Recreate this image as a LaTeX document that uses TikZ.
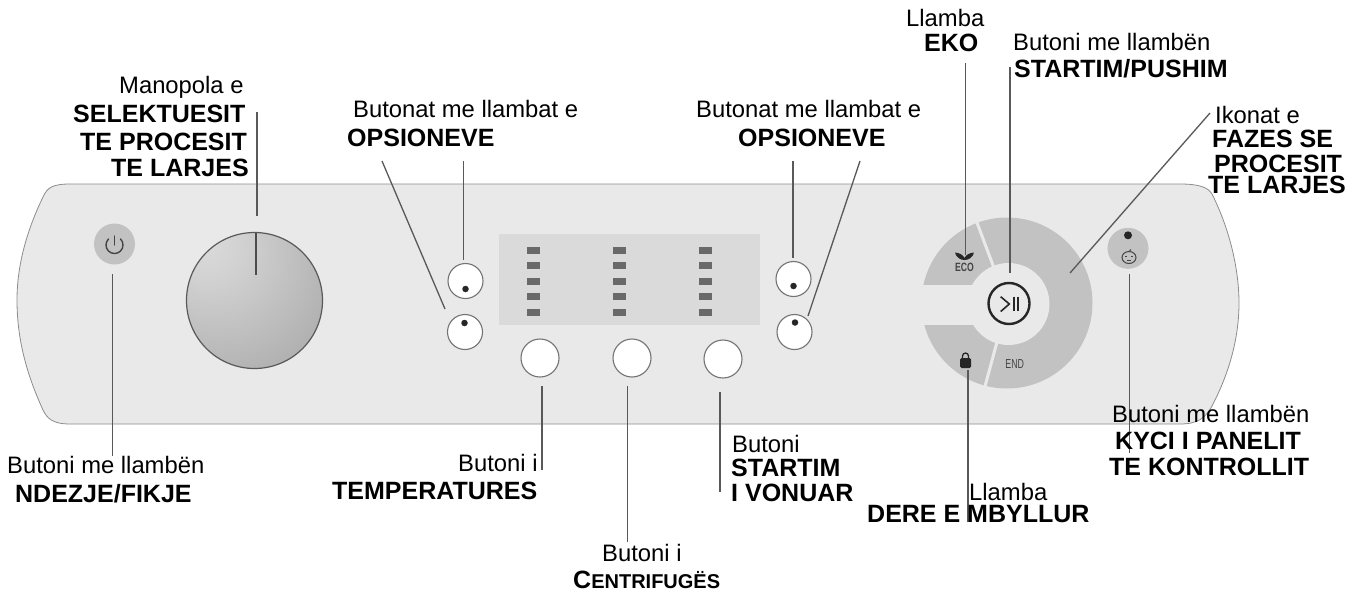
\documentclass[tikz,border=0pt]{standalone}
\usepackage{fontspec}
\setmainfont{Liberation Sans}
\usetikzlibrary{calc}
\definecolor{panelfill}{HTML}{E9E9E9}
\definecolor{paneledge}{HTML}{8C8C8C}
\definecolor{dispfill}{HTML}{DADADA}
\definecolor{ledfill}{HTML}{696969}
\definecolor{ringfill}{HTML}{C2C2C2}
\definecolor{iconink}{HTML}{444444}
\pgfdeclareradialshading{knobshade}{\pgfpoint{-19bp}{22bp}}{%
 color(0bp)=(black!14); color(12bp)=(black!18); color(40bp)=(black!30); color(70bp)=(black!42); color(100bp)=(black!50)}
\tikzset{
 leader/.style={draw=black!65,line width=1.3pt},
 lbl/.style={font=\fontsize{23.8}{26}\selectfont,inner sep=0pt,anchor=base west,text=black},
 blbl/.style={lbl,font=\fontsize{25}{26}\selectfont\bfseries},
 wbtn/.style={circle,draw=black!55,line width=1.1pt,fill=white,inner sep=0pt,minimum size=#1},
 dot/.style={circle,fill=black!85,inner sep=0pt,minimum size=6.5pt},
 led/.style={fill=ledfill,inner sep=0pt,minimum width=13pt,minimum height=7pt},
 gbtn/.style={circle,fill=ringfill,inner sep=0pt,minimum size=41pt},
}
\begin{document}
\begin{tikzpicture}[x=1pt,y=-1pt]
\useasboundingbox (0,0) rectangle (1358,592);
% panel
\draw[fill=panelfill,draw=paneledge,line width=0.8pt]
 (70,184) -- (1180,184) .. controls (1198,184) and (1208,187) .. (1212,194)
 .. controls (1230,230) and (1239,270) .. (1239,303)
 .. controls (1239,340) and (1228,375) .. (1213,404)
 .. controls (1206,418) and (1198,424) .. (1180,424)
 -- (70,424) .. controls (52,424) and (47,418) .. (43,410)
 .. controls (27,375) and (17,340) .. (17,300)
 .. controls (17,265) and (27,230) .. (43,197)
 .. controls (47,188) and (52,184) .. (70,184) -- cycle;
% power
\node[gbtn] (power) at (114.5,244) {};
\draw[iconink,line width=1.4pt,line cap=round] (108.5,239) arc[start angle=135,end angle=405,radius=8.5pt];
\draw[iconink,line width=1.4pt,line cap=round] (114.5,236) -- (114.5,245);
% knob
\node[circle,draw=black!65,line width=1.2pt,shading=knobshade,inner sep=0pt,minimum size=136pt] (knob) at (254.5,300.5) {};
\draw[black!70,line width=2pt] (255.5,232.5) -- (255.5,275);
% display
\node[fill=dispfill,inner sep=0pt,minimum width=261pt,minimum height=91pt] (disp) at (629.5,279.5) {};
\foreach \c/\x in {a/533,b/619,c/705.5}{\foreach \r/\y in {1/250,2/265.5,3/281,4/296.5,5/312}{\node[led] (led\c\r) at (\x,\y) {};}}
% option buttons
\node[wbtn=35pt] (optA) at (465.5,281) {}; \node[dot] (optAd) at (465.5,289) {};
\node[wbtn=35pt] (optB) at (465,332) {};   \node[dot] (optBd) at (464.5,323) {};
\node[wbtn=35pt] (optC) at (793.5,279) {}; \node[dot] (optCd) at (793.5,286) {};
\node[wbtn=35pt] (optD) at (794.5,332) {}; \node[dot] (optDd) at (795,322.5) {};
\node[wbtn=38pt] (btnT) at (540,358) {};
\node[wbtn=38pt] (btnC) at (632,358) {};
\node[wbtn=38pt] (btnS) at (723,359) {};
% ring
\fill[ringfill] (1007,303) circle[radius=85.5pt];
\fill[panelfill] (915,285) rectangle (1007,325);
\draw[panelfill,line width=3pt] (976,220) -- (994,268);
\draw[panelfill,line width=3pt] (984,390) -- (997,342);
\fill[panelfill] (1008.5,304) circle[radius=41pt];
\node[circle,draw=black!85,line width=2.4pt,inner sep=0pt,minimum size=41pt] (play) at (1009,303.5) {};
\draw[black!85,line width=1.6pt] (1000.7,296.7) -- (1009.3,304) -- (1000.7,311.5);
\draw[black!85,line width=1.7pt] (1014.3,296.5) -- (1014.3,311.3) (1017.9,296.5) -- (1017.9,311.3);
\node[inner sep=0pt,text=iconink,font=\fontsize{12}{14}\selectfont\bfseries,xscale=.72] (ecotxt) at (964.5,267.5) {ECO};
\fill[black!85] (964.5,260) .. controls (960,260) and (956,257) .. (955,252.5) .. controls (960,253) and (963,255) .. (964.5,258) .. controls (966,255) and (969,253) .. (974,252.5) .. controls (973,257) and (969,260) .. (964.5,260) -- cycle;
\node[inner sep=0pt,text=iconink,font=\fontsize{13}{14}\selectfont,xscale=.68] (endtxt) at (1014.7,364.5) {END};
\fill[black!85,rounded corners=1.5pt] (960,358) rectangle (971,368);
\draw[black!85,line width=1.3pt] (962.5,358.5) -- (962.5,356) arc[start angle=180,end angle=0,radius=3pt] -- (968.5,358.5);
% baby button
\node[gbtn] (lock) at (1128,248.3) {};
\node[dot,minimum size=8pt] (lockd) at (1128,235.3) {};
\draw[iconink,line width=1pt] (1129,257.5) ellipse[x radius=7pt,y radius=6pt];
\draw[iconink,line width=1pt] (1128.5,252) -- (1131,249.5);
\draw[iconink,line width=.8pt] (1125,256.5) -- (1127,256.5) (1131,256.5) -- (1133,256.5) (1127,260) -- (1131,260);
% leaders
\coordinate (eKnob) at (257,112);   \coordinate (fKnob) at (257,215.5);
\coordinate (ePow) at (112.3,456);  \coordinate (fPow) at (112.3,274);
\coordinate (eA) at (463.5,161);    \coordinate (fA) at (463.5,260);
\coordinate (eB) at (382,161);      \coordinate (fB) at (445,309);
\coordinate (eC) at (793,161);      \coordinate (fC) at (793,258);
\coordinate (eD) at (860,161);      \coordinate (fD) at (808,316);
\coordinate (eT) at (542,470);      \coordinate (fT) at (542,386);
\coordinate (eCe) at (627.3,541.5); \coordinate (fCe) at (627.3,386);
\coordinate (eS) at (720,491.5);    \coordinate (fS) at (720,392);
\coordinate (eEco) at (965.5,63);   \coordinate (fEco) at (965.5,255);
\coordinate (ePlay) at (1009.5,67); \coordinate (fPlay) at (1009.5,273);
\coordinate (eRing) at (1210,113);  \coordinate (fRing) at (1070,273);
\coordinate (eLock) at (968,522);   \coordinate (fLock) at (968,370);
\coordinate (eBaby) at (1129.5,453);\coordinate (fBaby) at (1129.5,274);
\foreach \n in {Knob,Pow,A,B,C,D,T,Ce,S,Eco,Ring,Lock,Baby}{\draw[leader] (e\n) -- (f\n);}
\draw[leader,line width=2pt] (ePlay) -- (fPlay);
% labels
\node[lbl] (t1) at (119,93) {Manopola e};
\node[blbl] (t2) at (73,122) {SELEKTUESIT};
\node[blbl] (t3) at (80,150) {TE PROCESIT};
\node[blbl] (t4) at (111,176) {TE LARJES};
\node[lbl] (t5) at (353,117) {Butonat me llambat e};
\node[blbl] (t6) at (347,146) {OPSIONEVE};
\node[lbl] (t7) at (696,117) {Butonat me llambat e};
\node[blbl] (t8) at (738,146) {OPSIONEVE};
\node[lbl] (t9) at (906,26) {Llamba};
\node[blbl] (t10) at (924,51) {EKO};
\node[lbl] (t11) at (1013,50) {Butoni me llambën};
\node[blbl] (t12) at (1014,77) {STARTIM/PUSHIM};
\node[lbl] (t13) at (1215,123) {Ikonat e};
\node[blbl] (t14) at (1212,147) {FAZES SE};
\node[blbl] (t15) at (1214,172) {PROCESIT};
\node[blbl] (t16) at (1208,193) {TE LARJES};
\node[lbl] (t17) at (7,473) {Butoni me llambën};
\node[blbl] (t18) at (15,502) {NDEZJE/FIKJE};
\node[lbl] (t19) at (458,471) {Butoni i};
\node[blbl] (t20) at (332,499) {TEMPERATURES};
\node[lbl] (t21) at (602,561) {Butoni i};
\node[blbl] (t22) at (573,588) {C{\fontsize{20}{20}\selectfont ENTRIFUGËS}};
\node[lbl] (t23) at (732,452) {Butoni};
\node[blbl] (t24) at (731,476) {STARTIM};
\node[blbl] (t25) at (731,501) {I VONUAR};
\node[lbl] (t26) at (969,500) {Llamba};
\node[blbl] (t27) at (867,522) {DERE E MBYLLUR};
\node[lbl] (t28) at (1112,422) {Butoni me llambën};
\node[blbl] (t29) at (1115,449) {KYCI I PANELIT};
\node[blbl] (t30) at (1109,475) {TE KONTROLLIT};
\end{tikzpicture}
\end{document}
